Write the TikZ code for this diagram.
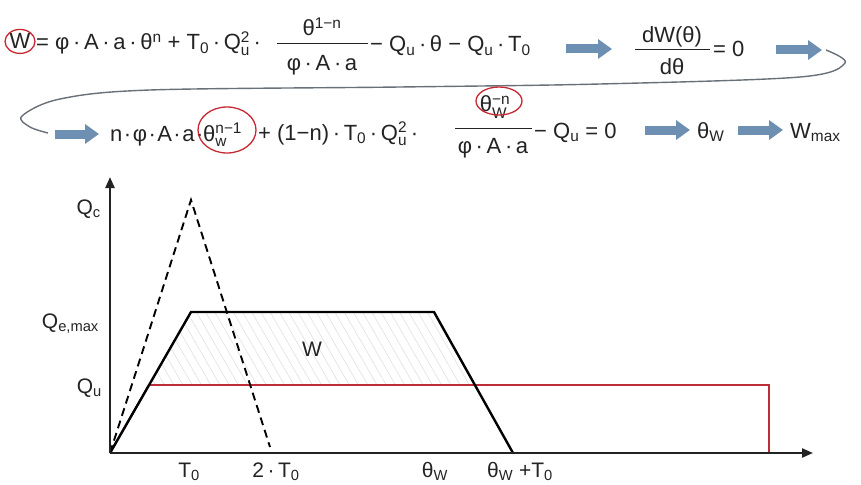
\documentclass[tikz,border=0pt]{standalone}
\usepackage{fontspec}
\usepackage{amsmath}
\setmainfont{Liberation Sans}
\usetikzlibrary{arrows.meta,patterns.meta}
\definecolor{ink}{RGB}{35,35,35}
\definecolor{arrowblue}{RGB}{108,143,178}
\definecolor{redline}{RGB}{190,45,55}
\definecolor{ringred}{RGB}{200,40,50}
\definecolor{loopgray}{RGB}{105,112,120}
\newcommand\dt{\,·\,}
\newcommand\tdt{\kern1.5pt·\kern1.5pt}
\newcommand\mysub[1]{$_{\text{#1}}$}
\newcommand\mysup[1]{$^{\text{#1}}$}
\newcommand\mysubsup[2]{$_{\text{#1}}^{\text{#2}}$}
\begin{document}
\begin{tikzpicture}[x=1pt,y=-1pt,
  eq/.style={font=\fontsize{22}{26}\selectfont, text=ink, inner sep=0pt, anchor=base west},
  eqc/.style={eq, anchor=base},
  lbl/.style={font=\fontsize{21}{25}\selectfont, text=ink, inner sep=0pt},
  bar/.style={draw=ink, line width=1pt},
  bigarrow/.style={draw=arrowblue, line width=9pt, -{Triangle[width=19pt,length=14pt]}},
  ring/.style={draw=ringred, line width=1.3pt},
  loopline/.style={draw=loopgray, line width=1.4pt},
  axis/.style={draw=ink, line width=2.2pt, -{Triangle[width=9pt,length=11pt]}},
  trap/.style={draw=black, line width=2.4pt, line join=miter},
  dashline/.style={draw=black, line width=1.9pt, dash pattern=on 8pt off 5pt},
  redpath/.style={draw=redline, line width=1.9pt},
  hatch/.style={pattern={Lines[angle=-60,distance=8pt,line width=0.6pt]}, pattern color=black!12}
]
\useasboundingbox (0,0) rectangle (861,484);

% ---------- line 1 ----------
\node[eqc] (W) at (20,49) {W};
\draw[ring] (W.center) ellipse [x radius=15, y radius=12];
\node[eq] (p1) at (36,50) {= φ\dt A\dt a\dt θ\mysup{n} + T\mysub{0}\dt Q\mysubsup{u}{2}\dt};
\node[eqc] (f1n) at (322,36) {θ\mysup{1−n}};
\node[eqc] (f1d) at (322,71) {φ\dt A\dt a};
\coordinate (f1l) at (277,44); \coordinate (f1r) at (368,44);
\draw[bar] (f1l) -- (f1r);
\node[eq] (p2) at (370,52) {− Q\mysub{u}\dt θ − Q\mysub{u}\dt T\mysub{0}};
\coordinate (a1s) at (566,49); \coordinate (a1e) at (612,49);
\draw[bigarrow] (a1s) -- (a1e);
\node[eqc] (f2n) at (672,43) {dW(θ)};
\node[eqc] (f2d) at (672,75) {dθ};
\coordinate (f2l) at (635,50); \coordinate (f2r) at (710,50);
\draw[bar] (f2l) -- (f2r);
\node[eq] (eq0a) at (713,57) {= 0};
\coordinate (a2s) at (776,50); \coordinate (a2e) at (822,50);
\draw[bigarrow] (a2s) -- (a2e);

% ---------- loop ----------
\coordinate (ls) at (826,50);
\coordinate (le) at (48,133);
\draw[loopline] plot[smooth, tension=0.55] coordinates {(ls) (845,63) (800,77) (600,84) (400,87) (150,90) (60,99) (22,116) (30,127) (le)};

% ---------- line 2 ----------
\coordinate (a3s) at (55,134); \coordinate (a3e) at (99,134);
\draw[bigarrow] (a3s) -- (a3e);
\node[eq] (p3) at (110,141) {n\tdt φ\tdt A\tdt a\tdt};
\node[eq] (tw1) at (203,141) {θ\mysubsup{w}{n−1}};
\draw[ring] (227,130) ellipse [x radius=29, y radius=23];
\node[eq] (p4) at (258,140) {+ (1−n)\dt T\mysub{0}\dt Q\mysubsup{u}{2}\dt};
\node[eqc] (f3n) at (495,112) {θ\mysubsup{W}{−n}};
\draw[ring] (499,101) ellipse [x radius=23, y radius=14];
\node[eqc] (f3d) at (493,153) {φ\dt A\dt a};
\coordinate (f3l) at (455,128); \coordinate (f3r) at (532,128);
\draw[bar] (f3l) -- (f3r);
\node[eq] (p5) at (534,138) {− Q\mysub{u} = 0};
\coordinate (a4s) at (645,130); \coordinate (a4e) at (690,130);
\draw[bigarrow] (a4s) -- (a4e);
\node[eq] (tw) at (697,138) {θ\mysub{W}};
\coordinate (a5s) at (738,130); \coordinate (a5e) at (783,130);
\draw[bigarrow] (a5s) -- (a5e);
\node[eq] (wmax) at (790,138) {W\mysub{max}};

% ---------- graph ----------
\coordinate (O) at (110,453);
\coordinate (ytop) at (110,177);
\coordinate (xend) at (813,453);
\coordinate (t1) at (191,312);
\coordinate (t2) at (434,312);
\coordinate (t3) at (513,453);
\coordinate (pk) at (191,200);
\coordinate (dend) at (270,447);
\coordinate (r1) at (149,385);
\coordinate (r2) at (769,385);
\coordinate (r3) at (769,453);
\coordinate (h4) at (475,385);

\fill[hatch] (r1) -- (t1) -- (t2) -- (h4) -- cycle;
\draw[redpath] (O) -- (r1) -- (r2) -- (r3);
\draw[dashline] (O) -- (pk) -- (dend);
\draw[trap] (O) -- (t1) -- (t2) -- (t3);
\draw[axis] (O) -- (ytop);
\draw[axis] (O) -- (xend);

\node[lbl, anchor=base east] (lqc) at (101,214) {Q\mysub{c}};
\node[lbl, anchor=base east] (lqe) at (99,328) {Q\mysub{e,max}};
\node[lbl, anchor=base east] (lqu) at (102,393) {Q\mysub{u}};
\node[lbl, anchor=base] (lt0) at (189,477) {T\mysub{0}};
\node[lbl, anchor=base] (l2t) at (276,477) {2\dt T\mysub{0}};
\node[lbl, anchor=base] (ltw) at (435,477) {θ\mysub{W}};
\node[lbl, anchor=base] (ltwt) at (520,477) {θ\mysub{W} +T\mysub{0}};
\node[lbl, anchor=base] (lw) at (312,356) {W};
\end{tikzpicture}
\end{document}
